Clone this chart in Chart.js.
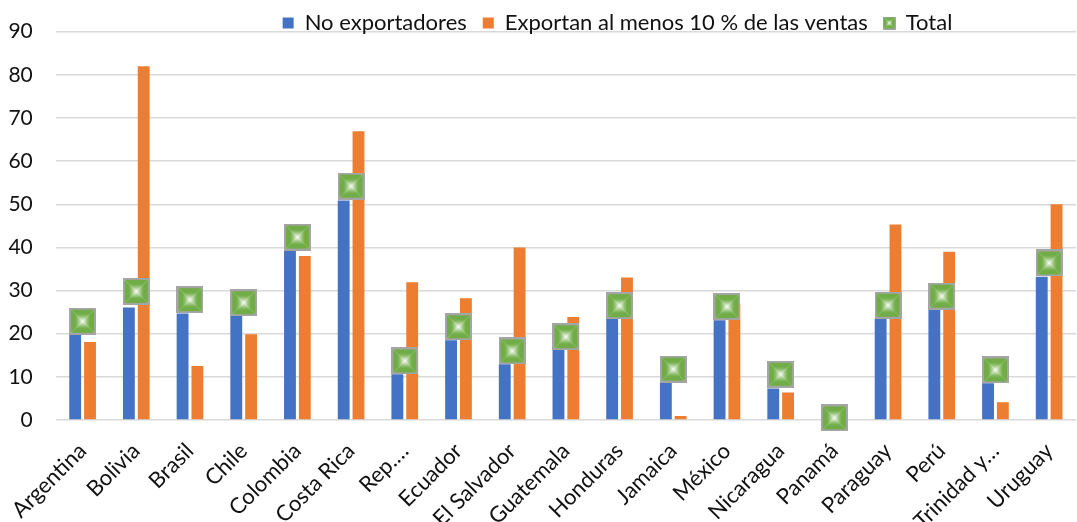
<!DOCTYPE html>
<html>
<head>
<meta charset="utf-8">
<script src="https://cdn.jsdelivr.net/npm/chart.js@4.4.1/dist/chart.umd.min.js"></script>
<style>
  html, body { margin: 0; padding: 0; background: #fff; overflow: hidden; }
  #wrap { width: 1089px; height: 522px; }
</style>
</head>
<body>
<div id="wrap"><canvas id="c" width="1089" height="522"></canvas></div>
<script>
const categories = ['Argentina','Bolivia','Brasil','Chile','Colombia','Costa Rica','Rep.…','Ecuador','El Salvador','Guatemala','Honduras','Jamaica','México','Nicaragua','Panamá','Paraguay','Perú','Trinidad y…','Uruguay'];
const noExportadores = [19.7, 26.1, 24.7, 24.1, 39.4, 50.9, 10.6, 18.5, 12.9, 16.2, 23.4, 8.8, 23.1, 7.3, 0, 23.5, 25.6, 8.5, 33.2];
const exportan10 = [18.1, 82.0, 12.5, 19.9, 38.0, 66.9, 31.9, 28.2, 40.0, 23.9, 33.0, 0.9, 27.0, 6.4, 0.3, 45.3, 39.0, 4.1, 50.0];
const total = [22.9, 29.8, 27.9, 27.2, 42.4, 54.2, 13.7, 21.6, 16.0, 19.3, 26.5, 11.8, 26.3, 10.6, 0.5, 26.6, 28.7, 11.6, 36.4];
const seriesNames = ['No exportadores', 'Exportan al menos 10 % de las ventas', 'Total'];
const yTicks = { min: 0, max: 90, step: 10 };

function makeMarker(size, border) {
  const c = document.createElement('canvas');
  c.width = size; c.height = size;
  const g = c.getContext('2d');
  g.fillStyle = '#a5a5a5';
  g.fillRect(0, 0, size, size);
  const inner = size - 2 * border;
  const n = Math.ceil(inner / 2);
  const g0 = [112, 173, 71];
  for (let k = 0; k < n; k++) {
    const t = k / (n - 1 || 1);
    const w = Math.pow(Math.max(0, (t - 0.3) / 0.7), 1.4);
    const col = g0.map(v => Math.round(v + (255 - v) * w));
    g.fillStyle = 'rgb(' + col.join(',') + ')';
    g.fillRect(border + k, border + k, inner - 2 * k, inner - 2 * k);
  }
  g.strokeStyle = 'rgba(255,255,255,0.25)';
  g.lineWidth = 0.8;
  g.beginPath();
  g.moveTo(border, border); g.lineTo(size - border, size - border);
  g.moveTo(size - border, border); g.lineTo(border, size - border);
  g.stroke();
  return c;
}
const marker = makeMarker(27, 2);
const legendMarker = makeMarker(13, 1);

const FONT = 'Lato, "Open Sans", sans-serif';

const placeLegend = {
  id: 'placeLegend',
  afterLayout(chart) {
    const lg = chart.legend;
    if (!lg) return;
    const dx = 73;
    lg.left += dx; lg.right += dx;
    lg.top = -4; lg.bottom = 40;
  }
};

new Chart(document.getElementById('c'), {
  type: 'bar',
  data: {
    labels: categories,
    datasets: [
      { label: seriesNames[0], data: noExportadores, backgroundColor: '#4472c4', order: 1,
        categoryPercentage: 0.552, barPercentage: 0.8 },
      { label: seriesNames[1], data: exportan10, backgroundColor: '#ed7d31', order: 1,
        categoryPercentage: 0.552, barPercentage: 0.8 },
      { label: seriesNames[2], data: total, type: 'line', showLine: false, order: 0,
        pointStyle: marker, pointRadius: 13, backgroundColor: '#70ad47', borderColor: '#a5a5a5',
        borderWidth: 0, clip: false }
    ]
  },
  options: {
    responsive: false,
    animation: false,
    devicePixelRatio: 1,
    layout: { padding: { top: 30.7, left: 0, right: 0, bottom: 0 } },
    plugins: {
      tooltip: { enabled: false },
      legend: {
        display: true,
        position: 'top',
        align: 'center',
        maxHeight: 1,
        labels: {
          usePointStyle: true,
          boxWidth: 11, boxHeight: 11, pointStyleWidth: 11,
          padding: 16,
          color: '#111',
          font: { family: FONT, size: 22 },
          generateLabels(chart) {
            const items = Chart.defaults.plugins.legend.labels.generateLabels(chart);
            items.sort((a, b) => a.datasetIndex - b.datasetIndex);
            items.forEach(it => {
              it.pointStyle = it.datasetIndex === 2 ? legendMarker : 'rect';
              it.lineWidth = 0;
              if (it.datasetIndex === 2) it.fillStyle = '#70ad47';
            });
            return items;
          }
        }
      }
    },
    scales: {
      x: {
        grid: { display: false },
        border: { display: false },
        ticks: {
          color: '#111',
          font: { family: FONT, size: 22 },
          minRotation: 45, maxRotation: 45,
          autoSkip: false,
          padding: 10
        },
        afterFit(s) { s.height = 102; }
      },
      y: {
        min: yTicks.min, max: yTicks.max,
        grid: { color: '#d9d9d9', lineWidth: 1.5, drawTicks: false },
        border: { display: false },
        ticks: {
          stepSize: yTicks.step,
          color: '#111',
          font: { family: FONT, size: 21, lineHeight: 0.3 },
          padding: 23
        },
        afterFit(s) { s.width = 55.75; }
      }
    }
  },
  plugins: [placeLegend]
});
</script>
</body>
</html>
